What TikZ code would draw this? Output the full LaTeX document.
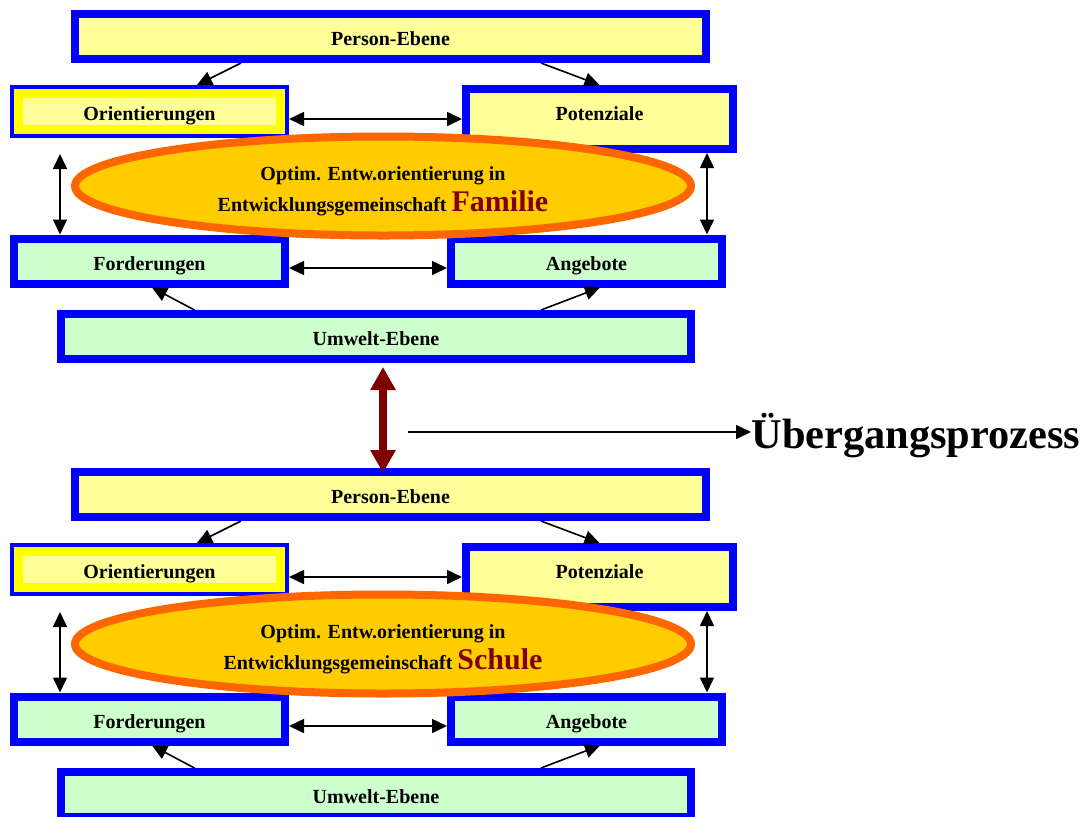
\documentclass[tikz,border=0pt]{standalone}
\usepackage{fontspec}
\setmainfont{Liberation Serif}
\usetikzlibrary{arrows.meta,shapes.geometric}
\definecolor{boxblau}{HTML}{0000FF}
\definecolor{hellgelb}{HTML}{FFFF99}
\definecolor{hellgruen}{HTML}{CCFFCC}
\definecolor{randgelb}{HTML}{FFFF00}
\definecolor{goldgelb}{HTML}{FFCC00}
\definecolor{randorange}{HTML}{FF6600}
\definecolor{dunkelrot}{HTML}{800000}
\tikzset{
  ebene/.style={draw=boxblau, line width=4pt, font=\bfseries, inner sep=0pt,
    minimum height=22.5pt, text height=10pt, text depth=1pt},
  person/.style={ebene, fill=hellgelb},
  umwelt/.style={ebene, fill=hellgruen},
  gemeinschaft/.style={ellipse, draw=randorange, fill=goldgelb, line width=4pt,
    inner sep=0pt, minimum width=308pt, minimum height=49.5pt, align=center,
    font=\fontsize{10}{15.5}\selectfont\bfseries},
  pfeil/.style={line width=0.8pt, -{Triangle[length=7.5pt,width=7pt]}},
  doppel/.style={line width=0.8pt, {Triangle[length=7.5pt,width=7pt]}-{Triangle[length=7.5pt,width=7pt]}},
}
\begin{document}
\begin{tikzpicture}[x=0.5pt,y=-0.5pt]
  \useasboundingbox (0,0) rectangle (1083,816);
  % Familie
  \node[person, minimum width=315.5pt] (pe1) at (390.5,36.5) {Person-Ebene};
  \node[person, minimum width=135.5pt] (or1) at (149.5,111.5) {Orientierungen};
  \draw[randgelb, line width=4.5pt] ([shift={(4.25pt,4.25pt)}]or1.south west) rectangle ([shift={(-4.25pt,-4.25pt)}]or1.north east);
  \node[person, minimum width=133.5pt, minimum height=30pt, text depth=8.4pt] (po1) at (599.5,119) {Potenziale};
  \node[umwelt, minimum width=135.5pt] (fo1) at (149.5,261) {Forderungen};
  \node[umwelt, minimum width=135.5pt] (an1) at (586.5,261) {Angebote};
  \node[umwelt, minimum width=315pt] (um1) at (376,336.5) {Umwelt-Ebene};
  \node[gemeinschaft] (el1) at (383,186) {\rule{0pt}{12pt}Optim. Entw.orientierung in\\
    Entwicklungsgemeinschaft {\fontsize{15}{15}\selectfont\color{dunkelrot}Familie}};
  \draw[pfeil] ([xshift=-74.75pt]pe1.south) -- ([xshift=23.75pt]or1.north);
  \draw[pfeil] ([xshift=75.25pt]pe1.south) -- (po1.north);
  \draw[doppel] ([yshift=-3.75pt]or1.east) -- ([yshift=-3.75pt]or1.east -| po1.west);
  \draw[doppel] ([xshift=-44.75pt,yshift=-8pt]or1.south) -- ([xshift=-44.75pt]fo1.north);
  \draw[doppel] ([xshift=53.75pt]po1.south) -- ([xshift=60.25pt]an1.north);
  \draw[doppel] ([yshift=-3.5pt]fo1.east) -- ([yshift=-3.5pt]fo1.east -| an1.west);
  \draw[pfeil] ([xshift=-90.75pt]um1.north) -- ([xshift=1.25pt]fo1.south);
  \draw[pfeil] ([xshift=82.5pt]um1.north) -- ([xshift=6.75pt]an1.south);
  % Schule
  \begin{scope}[shift={(0,458)}]
    \node[person, minimum width=315.5pt] (pe2) at (390.5,36.5) {Person-Ebene};
    \node[person, minimum width=135.5pt] (or2) at (149.5,111.5) {Orientierungen};
    \draw[randgelb, line width=4.5pt] ([shift={(4.25pt,4.25pt)}]or2.south west) rectangle ([shift={(-4.25pt,-4.25pt)}]or2.north east);
    \node[person, minimum width=133.5pt, minimum height=30pt, text depth=8.4pt] (po2) at (599.5,119) {Potenziale};
    \node[umwelt, minimum width=135.5pt] (fo2) at (149.5,261) {Forderungen};
    \node[umwelt, minimum width=135.5pt] (an2) at (586.5,261) {Angebote};
    \node[umwelt, minimum width=315pt] (um2) at (376,336.5) {Umwelt-Ebene};
    \node[gemeinschaft] (el2) at (383,186) {\rule{0pt}{12pt}Optim. Entw.orientierung in\\
      Entwicklungsgemeinschaft {\fontsize{15}{15}\selectfont\color{dunkelrot}Schule}};
    \draw[pfeil] ([xshift=-74.75pt]pe2.south) -- ([xshift=23.75pt]or2.north);
    \draw[pfeil] ([xshift=75.25pt]pe2.south) -- (po2.north);
    \draw[doppel] ([yshift=-3.75pt]or2.east) -- ([yshift=-3.75pt]or2.east -| po2.west);
    \draw[doppel] ([xshift=-44.75pt,yshift=-8pt]or2.south) -- ([xshift=-44.75pt]fo2.north);
    \draw[doppel] ([xshift=53.75pt]po2.south) -- ([xshift=60.25pt]an2.north);
    \draw[doppel] ([yshift=-3.5pt]fo2.east) -- ([yshift=-3.5pt]fo2.east -| an2.west);
    \draw[pfeil] ([xshift=-90.75pt]um2.north) -- ([xshift=1.25pt]fo2.south);
    \draw[pfeil] ([xshift=82.5pt]um2.north) -- ([xshift=6.75pt]an2.south);
  \end{scope}
  % Uebergang
  \draw[dunkelrot, line width=3.6pt, {Triangle[length=11.5pt,width=12pt]}-{Triangle[length=11.5pt,width=12pt]}]
    ([xshift=3.5pt,yshift=-2pt]um1.south) -- ([xshift=-3.75pt,yshift=-2.5pt]pe2.north);
  \coordinate (ue) at (408,432);
  \node[anchor=base west, inner sep=0pt, font=\fontsize{21.2}{25}\selectfont\bfseries] (uep) at (751,448) {Übergangsprozess};
  \draw[pfeil] (ue) -- (ue -| uep.west);
\end{tikzpicture}
\end{document}
